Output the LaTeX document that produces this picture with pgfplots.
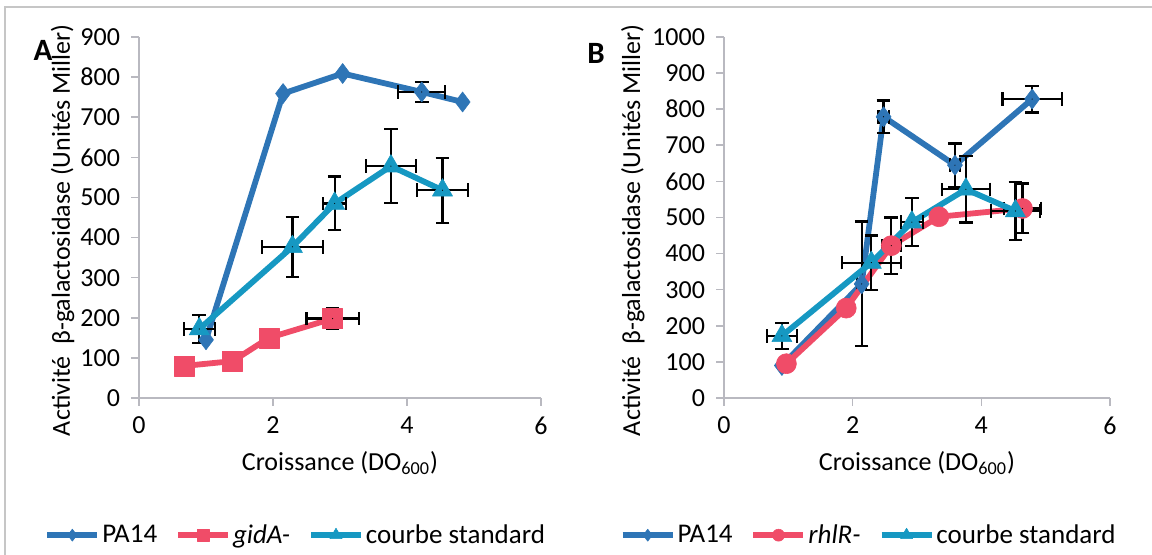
\documentclass[border=0pt]{standalone}
\usepackage{fontspec}
\setmainfont{Carlito}
\usepackage{pgfplots}
\pgfplotsset{compat=1.18}

\definecolor{cblue}{RGB}{46,117,182}
\definecolor{cred}{RGB}{240,76,104}
\definecolor{cteal}{RGB}{22,152,194}
\definecolor{axgray}{RGB}{185,185,192}

\pgfplotsset{
  myaxis/.style={
    scale only axis,
    height=180.5pt,
    xmin=0, xmax=6, ymin=0,
    xtick={0,2,4,6},
    axis x line*=bottom, axis y line*=left,
    axis line style={axgray, line width=0.8pt},
    tick style={axgray, line width=0.8pt},
    major tick length=4pt, tick align=outside,
    /pgf/number format/assume math mode=true,
    /pgf/number format/1000 sep={},
    ticklabel style={font=\fontsize{13}{14}\selectfont, text=black},
    yticklabel style={xshift=-2pt},
    xticklabel style={yshift=-2pt},
    xlabel={Croissance (DO\textsubscript{600})},
    ylabel={Activité\ \ β-galactosidase (Unités Miller)},
    every axis x label/.style={at={(axis description cs:0.5,-0.18)}, anchor=center, font=\fontsize{13}{15}\selectfont},
    legend columns=3,
    legend style={draw=none, fill=none, font=\fontsize{13.5}{15}\selectfont,
      nodes={inner xsep=1pt},
      /tikz/every even column/.append style={column sep=8pt},
      anchor=center},
    legend image code/.code={\draw[mark repeat=2,mark phase=2,#1, every mark/.append style={scale=0.6}] plot coordinates {(0pt,0pt) (12.5pt,0pt) (25pt,0pt)};},
    legend cell align=left,
  },
  sblue/.style={cblue, line width=2.9pt, line join=round, mark=diamond*, mark size=5pt, mark options={solid, line width=0.3pt}},
  sred/.style={cred, line width=2.9pt, line join=round, mark size=5pt, mark options={solid, line width=0.3pt}},
  steal/.style={cteal, line width=2.9pt, line join=round, mark=triangle*, mark size=5.8pt, mark options={solid, line width=0.3pt}},
  ebars/.style={forget plot, black, only marks, mark=*, mark size=0.01pt,
    error bars/.cd, x dir=both, x explicit, y dir=both, y explicit,
    error bar style={draw=black, line width=1.1pt},
    error mark=-,
    error mark options={rotate=90, draw=black, line width=1.1pt, mark size=3.4pt}},
}

\begin{document}
\begin{tikzpicture}
\useasboundingbox (0,0) rectangle (576pt,277.5pt);
\draw[gray!45, line width=0.7pt] (2.5pt,0) -- (2.5pt,274pt) -- (576pt,274pt);

% Panel A
\begin{axis}[myaxis, at={(69.5pt,78.5pt)}, anchor=south west, width=201pt,
  ymax=900, ytick={0,100,...,900},
  every axis y label/.style={at={(axis description cs:-0.19,0.465)}, rotate=90, anchor=center, font=\fontsize{13}{15}\selectfont},
  legend style={at={(axis description cs:0.39,-0.38)}}]
\addplot[sblue] coordinates {(1.00,145) (2.15,759) (3.04,809) (4.22,763) (4.83,738)};
\addlegendentry{PA14}
\addplot[ebars] coordinates {(4.22,763) +- (0.35,25)};
\addplot[sred, mark=square*] coordinates {(0.68,80) (1.40,92) (1.94,150) (2.89,198)};
\addlegendentry{\textit{gidA-}}
\addplot[ebars] coordinates {(2.89,198) +- (0.39,25)};
\addplot[steal] coordinates {(0.90,172) (2.29,377) (2.92,485) (3.76,578) (4.53,518)};
\addlegendentry{courbe standard}
\addplot[ebars] coordinates {(0.90,172) +- (0.23,35) (2.29,377) +- (0.46,75) (2.92,485) +- (0.17,67) (3.76,578) +- (0.37,92) (4.53,518) +- (0.38,81)};
\end{axis}

% Panel B
\begin{axis}[myaxis, at={(362pt,78.5pt)}, anchor=south west, width=193pt,
  ymax=1000, ytick={0,100,...,1000},
  every axis y label/.style={at={(axis description cs:-0.236,0.465)}, rotate=90, anchor=center, font=\fontsize{13}{15}\selectfont},
  legend style={at={(axis description cs:0.375,-0.38)}}]
\addplot[sblue] coordinates {(0.90,90) (2.14,316) (2.48,779) (3.59,645) (4.79,828)};
\addlegendentry{PA14}
\addplot[ebars] coordinates {(2.14,316) +- (0.07,173) (2.48,779) +- (0.08,45) (3.59,645) +- (0.08,60) (4.79,828) +- (0.46,37)};
\addplot[sred, mark=*] coordinates {(0.97,95) (1.90,249) (2.60,422) (3.34,502) (4.64,525)};
\addlegendentry{\textit{rhlR-}}
\addplot[ebars] coordinates {(2.60,422) +- (0.15,78) (4.64,525) +- (0.29,69)};
\addplot[steal] coordinates {(0.90,172) (2.29,375) (2.92,487) (3.76,578) (4.53,518)};
\addlegendentry{courbe standard}
\addplot[ebars] coordinates {(0.90,172) +- (0.23,36) (2.29,375) +- (0.46,75) (2.92,487) +- (0.17,67) (3.76,578) +- (0.37,92) (4.53,518) +- (0.38,81)};
\end{axis}

\node[font=\fontsize{15.5}{17}\selectfont\bfseries] at (21.5pt,252.5pt) {A};
\node[font=\fontsize{15.5}{17}\selectfont\bfseries] at (298pt,251pt) {B};
\end{tikzpicture}
\end{document}
